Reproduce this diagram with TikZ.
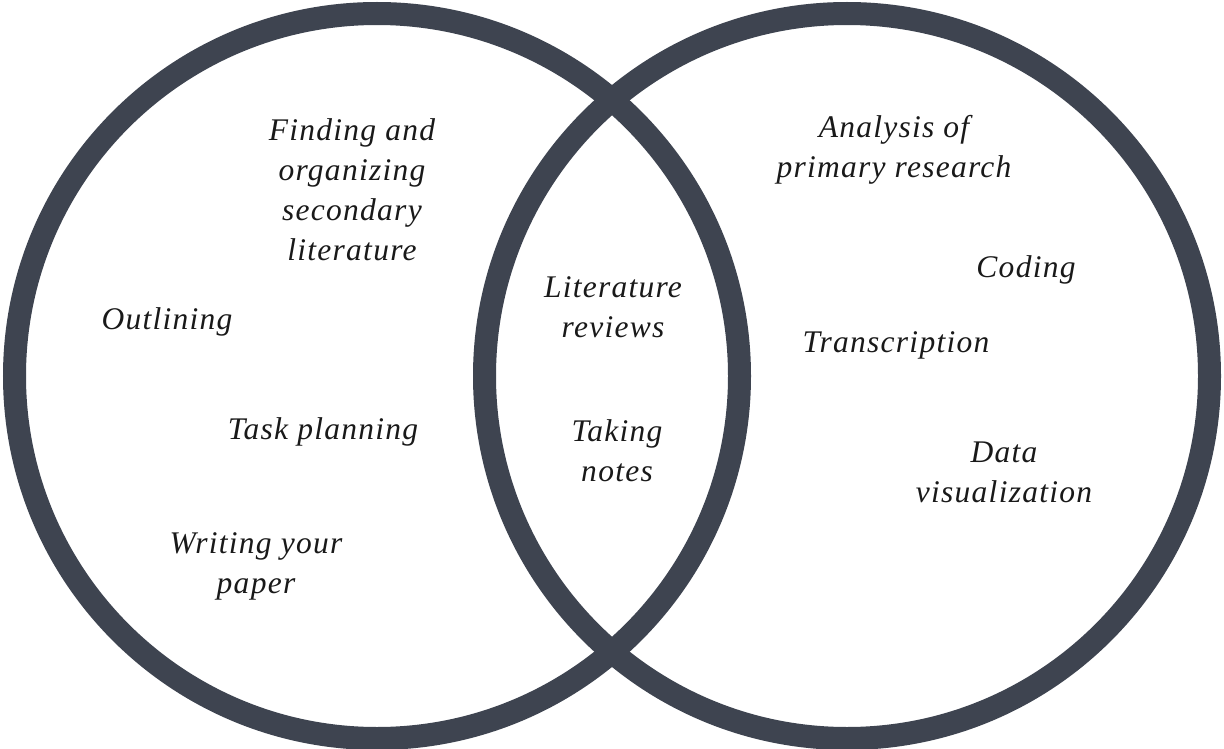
\documentclass[tikz,border=0pt]{standalone}
\usepackage{fontspec}
\setmainfont{Liberation Serif}[LetterSpace=4]
\definecolor{ring}{HTML}{3E4450}
\begin{document}
\begin{tikzpicture}[x=1pt,y=-1pt,
  ringline/.style={draw=ring,line width=23pt},
  label/.style={align=center,font=\fontsize{31.5}{40}\selectfont\itshape,inner sep=0pt,text=black!90}]
\useasboundingbox[fill=white] (0,0) rectangle (1224,749);
\draw[ringline] (377,376) circle[radius=362.5];
\draw[ringline] (847,376) circle[radius=362.5];
\node[label] (finding) at (352,190) {Finding and\\organizing\\secondary\\literature};
\node[label] (outlining) at (167,322) {Outlining};
\node[label] (task) at (323,432) {Task planning};
\node[label] (writing) at (256,566) {Writing your\\paper};
\node[label] (litrev) at (613,307) {Literature\\reviews};
\node[label] (notes) at (617,451) {Taking\\notes};
\node[label] (analysis) at (894,150) {Analysis of\\primary research};
\node[label] (coding) at (1026,270) {Coding};
\node[label] (transcription) at (896,345) {Transcription};
\node[label] (dataviz) at (1004,472) {Data\\visualization};
\end{tikzpicture}
\end{document}
